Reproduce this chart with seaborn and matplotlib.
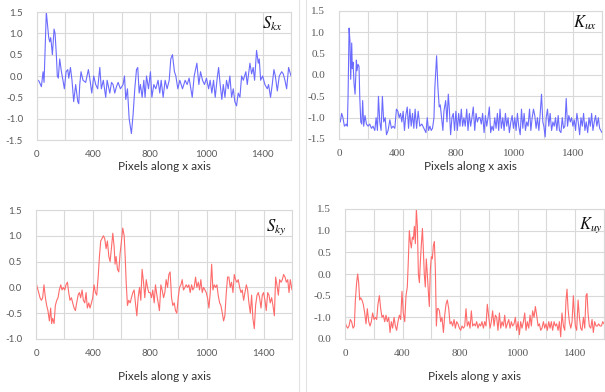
import numpy as np
import pandas as pd
import matplotlib
matplotlib.use("Agg")
import matplotlib.pyplot as plt
import seaborn as sns
from matplotlib.lines import Line2D
from matplotlib.ticker import FixedLocator, FixedFormatter, MultipleLocator

# ---------------- data ----------------
skx_x = [0,14,31,43,50,66,83,90,97,102,109,121,128,137,144,151,161,173,184,194,206,218,225,237,248,260,274,289,296,303,312,326,345,364,374,388,402,416,430,445,456,470,487,497,516,528,539,551,563,575,591,610,620,629,641,653,669,681,693,705,714,724,733,745,757,766,776,790,804,814,828,842,858,870,880,894,908,922,937,948,960,974,984,998,1012,1031,1050,1064,1078,1100,1114,1133,1147,1159,1173,1187,1201,1216,1227,1239,1251,1263,1277,1287,1298,1310,1320,1332,1343,1355,1367,1379,1391,1402,1414,1426,1438,1450,1462,1480,1490,1509,1521,1532,1542,1556,1568,1575,1585,1599,1615,1632,1641,1655,1667,1679,1689,1703,1717,1734,1745,1757,1769,1783,1800]
skx_y = [-0.08,-0.12,-0.25,0.1,-0.15,1.5,0.9,0.8,0.9,0.75,0.5,1.1,1.0,0.5,0.0,-0.05,0.4,0.1,-0.1,-0.3,0.1,0.15,-0.05,0.2,-0.1,-0.6,-0.2,-0.6,-0.65,-0.2,0.1,-0.1,-0.15,0.15,-0.05,-0.4,0.0,-0.2,-0.3,0.2,-0.3,-0.1,-0.5,-0.1,-0.4,-0.15,-0.2,-0.4,-0.25,-0.15,-0.3,-0.2,0.0,-0.55,-0.3,-1.0,-1.35,-0.9,-0.3,0.15,0.2,-0.4,-0.2,-0.5,-0.1,-0.5,0.0,-0.3,0.1,-0.5,-0.2,-0.3,-0.1,-0.4,-0.1,-0.5,-0.1,-0.3,-0.1,0.4,0.5,0.1,0.0,-0.3,-0.1,-0.3,-0.1,-0.2,-0.05,-0.5,0.0,0.3,-0.2,0.1,-0.1,-0.2,-0.05,-0.3,-0.1,-0.4,-0.1,-0.5,-0.05,0.2,-0.2,-0.55,-0.2,-0.5,-0.1,-0.3,0.0,-0.5,-0.3,-0.6,-0.7,-0.4,-0.5,0.0,-0.1,0.1,-0.2,0.3,0.05,0.2,-0.1,0.6,0.3,0.4,-0.1,0.0,-0.2,-0.3,-0.2,-0.5,-0.2,0.15,0.0,-0.35,0.0,0.1,0.05,-0.1,-0.3,0.2,0.0]

kux_x = [0,9,18,27,37,50,57,62,69,75,80,87,91,96,103,110,119,123,130,137,142,149,156,162,169,178,188,199,210,222,233,245,254,263,270,279,288,297,306,316,325,336,348,359,370,382,393,403,412,421,430,439,448,457,467,476,485,494,503,512,521,531,542,553,567,581,595,604,613,622,631,640,650,656,668,677,686,693,702,711,718,730,739,748,755,764,773,782,791,800,810,819,828,837,846,855,864,874,883,892,901,910,919,929,938,947,956,965,974,983,993,1002,1011,1020,1029,1038,1047,1057,1066,1075,1084,1093,1102,1111,1121,1130,1139,1148,1157,1166,1176,1185,1194,1203,1212,1221,1230,1240,1249,1258,1267,1276,1285,1294,1304,1313,1322,1331,1340,1349,1358,1368,1377,1386,1395,1402,1411,1418,1427,1436,1445,1455,1464,1473,1482,1491,1500,1509,1519,1528,1537,1546,1555,1564,1573,1583,1592,1601,1610,1619,1628,1637,1647,1656,1665,1674,1683,1692,1702,1711,1720,1729,1738,1747,1756,1765,1775,1784,1800]
kux_y = [-1.0,-1.1,-0.9,-1.0,-1.2,-1.15,-1.2,-0.5,1.1,0.8,-0.1,0.75,0.15,0.3,-0.2,-0.45,0.35,0.1,0.25,0.2,-0.5,-1.1,-1.15,-0.6,-1.2,-0.95,-1.15,-1.2,-1.15,-1.25,-1.2,-1.3,-1.0,-1.3,-0.5,-1.1,-1.3,-0.5,-1.1,-1.0,-1.4,-1.3,-1.05,-1.25,-1.2,-1.25,-0.8,-0.85,-1.0,-0.9,-1.1,-0.85,-1.3,-0.95,-0.75,-1.25,-0.8,-1.2,-0.9,-1.25,-0.8,-1.25,-0.85,-1.2,-1.15,-1.25,-1.35,-1.0,-1.3,-1.2,-1.3,-1.25,-1.0,-0.3,0.45,-0.3,-0.75,-0.7,-1.0,-1.3,-0.85,-0.6,-1.1,-0.45,-0.8,-1.4,-1.0,-0.9,-1.3,-0.85,-1.3,-0.9,-1.2,-0.8,-1.2,-1.0,-1.2,-0.8,-1.3,-0.9,-1.2,-1.0,-0.75,-1.3,-0.9,-1.1,-1.0,-1.0,-1.15,-0.9,-1.35,-0.95,-1.2,-1.0,-0.75,-1.35,-1.2,-1.3,-1.0,-1.25,-0.9,-1.3,-0.8,-1.25,-1.0,-1.3,-0.9,-1.2,-1.0,-1.35,-1.1,-0.95,-1.25,-1.0,-1.3,-0.9,-1.2,-1.4,-0.8,-1.25,-0.9,-1.3,-1.1,-1.2,-0.8,-1.3,-1.0,-0.8,-0.95,-1.25,-1.0,-1.3,-0.9,-0.45,-1.1,-1.2,-1.45,-1.0,-0.8,-1.2,-0.9,-1.3,-1.1,-1.2,-1.0,-1.3,-0.95,-1.3,-1.35,-1.0,-1.25,-1.2,-0.55,-1.2,-0.95,-1.1,-1.0,-1.2,-1.05,-1.3,-0.9,-1.1,-1.4,-1.0,-1.2,-0.9,-1.3,-1.1,-1.35,-1.0,-1.2,-0.9,-1.3,-1.1,-0.95,-1.2,-1.0,-1.25,-1.35]

sky_x = [0,9,19,28,38,47,56,66,75,84,94,103,110,117,127,136,146,155,164,174,183,192,202,211,221,230,239,249,258,268,277,286,296,305,314,324,333,343,352,361,371,380,390,399,408,418,427,437,446,455,465,474,483,493,502,512,521,530,540,549,556,563,573,582,591,601,610,620,627,634,643,652,662,671,681,690,699,709,718,728,737,746,756,765,775,784,793,803,812,821,831,840,850,859,868,878,887,897,906,915,925,934,943,953,962,972,981,990,1000,1009,1019,1028,1037,1047,1056,1066,1075,1084,1094,1103,1112,1122,1131,1141,1150,1159,1169,1178,1188,1197,1206,1216,1225,1235,1244,1253,1263,1272,1281,1291,1300,1310,1319,1328,1338,1347,1356,1366,1375,1385,1394,1403,1413,1422,1432,1441,1450,1460,1469,1479,1488,1497,1507,1516,1525,1535,1544,1554,1563,1572,1582,1591,1600,1610,1619,1629,1638,1647,1657,1666,1676,1685,1694,1704,1713,1723,1732,1741,1751,1760,1770,1779,1788,1800]
sky_y = [0.1,0.0,-0.1,-0.2,-0.25,-0.2,0.05,-0.2,-0.35,-0.45,-0.65,-0.4,-0.7,-0.6,-0.7,-0.35,-0.25,-0.2,-0.05,0.05,-0.05,0.0,-0.05,0.05,0.1,-0.1,-0.25,-0.2,-0.3,-0.4,-0.45,-0.3,-0.15,-0.1,-0.2,-0.05,-0.25,-0.3,-0.1,-0.4,-0.3,-0.4,-0.3,-0.2,0.05,-0.1,-0.15,0.2,0.6,0.9,0.95,1.0,0.95,0.75,0.9,0.6,0.5,0.75,1.05,0.8,0.45,0.6,0.35,0.3,0.65,0.9,1.15,1.0,0.6,0.1,-0.35,-0.25,-0.3,-0.2,-0.1,-0.05,-0.3,-0.55,-0.2,0.0,-0.25,0.35,0.1,-0.2,0.15,0.0,-0.1,-0.1,-0.2,-0.05,-0.3,0.05,-0.15,-0.3,-0.45,0.05,-0.05,-0.2,-0.1,0.15,0.0,0.25,0.3,-0.2,-0.35,-0.3,-0.45,-0.5,-0.2,0.0,0.05,0.15,-0.05,0.0,0.05,0.0,0.05,-0.1,0.05,-0.05,0.0,0.2,0.0,0.1,-0.05,0.15,-0.1,0.0,-0.05,-0.1,-0.2,-0.4,-0.1,0.45,-0.05,0.05,0.0,0.05,-0.15,-0.3,-0.35,-0.5,-0.65,-0.55,-0.1,0.2,0.2,0.0,0.1,-0.1,0.25,0.15,0.1,0.15,0.0,-0.1,-0.05,-0.25,-0.1,0.05,-0.05,-0.3,-0.5,-0.15,-0.6,-0.8,-0.35,-0.15,-0.1,-0.2,-0.4,-0.15,-0.1,-0.25,-0.45,-0.1,-0.15,-0.3,-0.2,-0.35,-0.55,0.2,0.05,-0.15,0.15,0.1,0.15,0.25,0.2,0.1,0.15,-0.1,0.15,-0.05]

kuy_x = [0,9,19,28,37,46,56,65,72,81,88,95,102,109,118,127,137,146,155,165,174,183,192,202,211,220,229,239,248,257,266,276,285,294,304,313,322,331,341,350,359,368,378,387,396,405,415,424,433,440,447,454,461,468,475,482,489,496,503,510,517,524,531,538,544,551,558,565,572,579,586,593,600,607,614,621,628,635,642,649,656,665,674,684,693,702,711,721,730,739,748,758,767,776,785,795,804,813,823,832,841,850,860,869,878,887,897,906,915,924,934,943,952,962,971,980,989,999,1008,1017,1026,1036,1045,1054,1063,1073,1082,1091,1101,1110,1119,1128,1138,1147,1156,1165,1175,1184,1193,1203,1212,1221,1230,1240,1249,1258,1267,1277,1286,1295,1304,1314,1323,1332,1342,1351,1360,1369,1379,1388,1397,1406,1416,1425,1434,1443,1453,1462,1471,1481,1490,1499,1508,1518,1527,1536,1543,1550,1559,1569,1578,1587,1594,1601,1610,1620,1629,1638,1647,1657,1666,1675,1682,1689,1698,1708,1717,1726,1735,1745,1754,1763,1772,1782,1791,1800]
kuy_y = [-1.1,-1.2,-1.25,-1.2,-1.05,-1.1,-1.25,-1.2,-0.6,-0.2,0.0,-0.2,-0.6,-0.55,-0.6,-0.7,-0.9,-1.15,-0.8,-1.1,-1.2,-1.1,-0.9,-1.05,-1.0,-1.05,-0.7,-0.5,-0.8,-1.0,-0.95,-1.1,-0.95,-1.1,-1.0,-1.35,-1.1,-1.25,-1.0,-1.2,-1.3,-1.1,-0.95,-1.05,-0.4,-0.9,-1.1,-0.5,-0.3,0.3,1.0,0.75,0.6,0.85,0.8,1.1,0.7,1.5,1.1,0.0,-0.2,0.3,0.7,1.05,0.6,0.0,-0.3,0.35,0.0,-0.4,-0.75,0.1,0.4,0.35,0.65,0.75,0.1,-1.2,-0.8,-0.8,-0.85,-1.1,-1.0,-1.35,-0.95,-0.7,-0.6,-0.8,-1.15,-1.1,-1.2,-1.05,-1.25,-1.1,-1.15,-1.25,-1.3,-1.2,-1.25,-1.2,-0.8,-1.2,-1.1,-1.25,-0.85,-1.2,-1.15,-1.2,-1.1,-1.25,-1.15,-1.2,-1.1,-1.25,-1.1,-1.2,-0.7,-1.0,-1.25,-1.1,-0.85,-1.2,-0.95,-1.0,-1.3,-0.9,-1.25,-1.1,-1.2,-0.95,-1.25,-1.15,-1.05,-1.25,-1.1,-1.2,-1.15,-1.0,-1.3,-1.1,-1.4,-1.1,-1.25,-1.1,-0.9,-1.3,-1.1,-1.25,-0.95,-1.2,-0.85,-1.0,-0.75,-0.95,-1.2,-1.15,-1.3,-1.25,-1.1,-1.25,-1.15,-1.3,-1.1,-1.25,-1.1,-1.3,-1.1,-1.2,-1.15,-1.3,-1.1,-1.45,-0.9,-1.2,-1.3,-0.6,-0.35,-0.8,-1.1,-1.25,-1.1,-0.5,-0.9,-1.2,-1.3,-0.6,-1.0,-1.25,-1.3,-1.0,-1.25,-0.5,-0.45,-0.9,-1.2,-1.25,-1.05,-1.35,-1.1,-1.2,-1.2,-1.15,-1.2,-1.2,-1.1,-1.15]

x_tick_values = [0, 400, 800, 1200, 1600]
x_tick_labels = ["0", "400", "800", "1000", "1400"]
y_ticks_a = [-1.5, -1.0, -0.5, 0.0, 0.5, 1.0, 1.5]
y_labels_a = ["-1.5", "-1.0", "-0.5", "0.0", "0.5", "1.0", "1.5"]
y_ticks_c = [-1.0, -0.5, 0.0, 0.5, 1.0, 1.5]
y_labels_c = ["-1.0", "-0.5", "0.0", "0.5", "1.0", "1.5"]
y_labels_d = ["0.0", "-1.0", "-0.5", "0.0", "0.5", "1.0", "1.5"]
names = [r"$S_{kx}$", r"$K_{ux}$", r"$S_{ky}$", r"$K_{uy}$"]
xlabels = ["Pixels along x axis", "Pixels along x axis", "Pixels along y axis", "Pixels along y axis"]

# ---------------- style ----------------
sns.set_style("white")
plt.rcParams["font.family"] = ["Lato", "DejaVu Sans"]
plt.rcParams["mathtext.fontset"] = "stix"
plt.rcParams["axes.unicode_minus"] = False

W, H = 605, 392
fig = plt.figure(figsize=(W / 100, H / 100), dpi=100)

BLUE = "#6b6bff"
RED = "#ff6b6b"
GRID = "#d9d9d9"
TICKC = "#595959"

panels = [
    dict(rect=(37, 12, 291, 140), x=skx_x, y=skx_y, color=BLUE, ylim=(-1.5, 1.5),
         yt=y_ticks_a, yl=y_labels_a, tf="Lato", ts=7, name=names[0], nxy=(0.968, 0.905),
         xl=xlabels[0], xly=166),
    dict(rect=(339, 11, 602, 139), x=kux_x, y=kux_y, color=BLUE, ylim=(-1.5, 1.5),
         yt=y_ticks_a, yl=y_labels_a, tf="Liberation Serif", ts=8, name=names[1], nxy=(0.982, 0.91),
         xl=xlabels[1], xly=167),
    dict(rect=(36, 210, 292, 339), x=sky_x, y=sky_y, color=RED, ylim=(-1.0, 1.5),
         yt=y_ticks_c, yl=y_labels_c, tf="Lato", ts=7, name=names[2], nxy=(0.977, 0.865),
         xl=xlabels[2], xly=376),
    dict(rect=(345, 209, 604, 339), x=kuy_x, y=kuy_y, color=RED, ylim=(-1.5, 1.5),
         yt=y_ticks_a, yl=y_labels_d, tf="Liberation Serif", ts=8, name=names[3], nxy=(0.995, 0.877),
         xl=xlabels[3], xly=377),
]

for p in panels:
    l, t, r, b = p["rect"]
    ax = fig.add_axes([l / W, 1 - b / H, (r - l) / W, (b - t) / H])
    df = pd.DataFrame({"x": p["x"], "y": p["y"]})
    sns.lineplot(data=df, x="x", y="y", ax=ax, color=p["color"], linewidth=0.8)
    ax.set_xlim(0, 1800)
    ax.set_ylim(*p["ylim"])
    ax.xaxis.set_major_locator(FixedLocator(x_tick_values))
    ax.xaxis.set_major_formatter(FixedFormatter(x_tick_labels))
    ax.xaxis.set_minor_locator(MultipleLocator(200))
    ax.yaxis.set_major_locator(FixedLocator(p["yt"]))
    ax.yaxis.set_major_formatter(FixedFormatter(p["yl"]))
    ax.grid(True, which="both", axis="x", color=GRID, linewidth=0.8)
    ax.grid(True, which="major", axis="y", color=GRID, linewidth=0.8)
    ax.set_axisbelow(True)
    ax.tick_params(which="both", length=0, colors=TICKC, labelsize=p["ts"])
    ax.tick_params(axis="y", pad=10)
    ax.tick_params(axis="x", pad=7)
    for lab in ax.get_xticklabels() + ax.get_yticklabels():
        lab.set_fontfamily(p["tf"])
    for s in ax.spines.values():
        s.set_color(GRID)
        s.set_linewidth(0.8)
    ax.set_ylabel("")
    ax.set_xlabel(p["xl"], fontsize=8.5, color="#333333", va="center", family="Lato")
    ax.xaxis.set_label_coords(0.5, -(p["xly"] - b) / (b - t))
    ax.text(p["nxy"][0], p["nxy"][1], p["name"], transform=ax.transAxes,
            ha="right", va="center", fontsize=12, color="#111111")

for xx in (298.5, 305.5):
    fig.add_artist(Line2D([xx / W, xx / W], [0, 1], transform=fig.transFigure,
                          color="#e3e3e3", linewidth=0.8))

fig.savefig("out.png", dpi=100)
